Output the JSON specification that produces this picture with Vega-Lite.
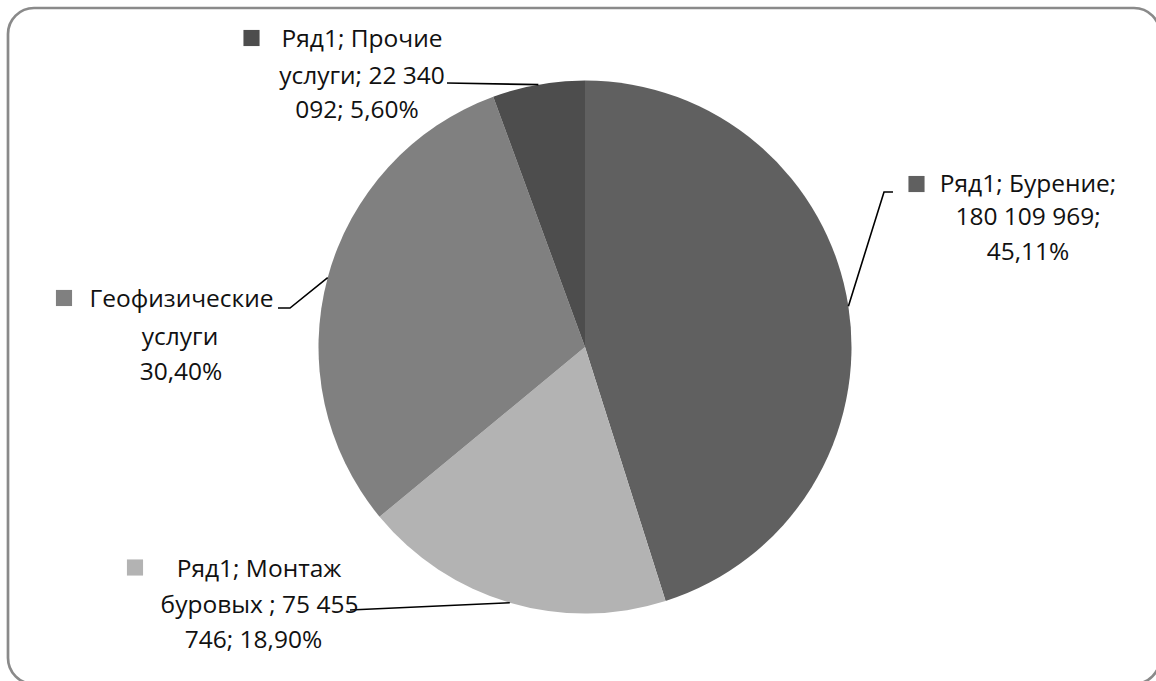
{
  "$schema": "https://vega.github.io/schema/vega-lite/v6.json",
  "width": 1142,
  "height": 668,
  "autosize": "none",
  "padding": {"left": 14, "top": 13, "right": 0, "bottom": 0},
  "background": "white",
  "config": {"view": {"stroke": null}},
  "datasets": {
    "pie": [
      {"cat": "Бурение", "value": 180109969, "ord": 1},
      {"cat": "Монтаж буровых", "value": 75455746, "ord": 2},
      {"cat": "Геофизические услуги", "value": 121362000, "ord": 3},
      {"cat": "Прочие услуги", "value": 22340092, "ord": 4}
    ],
    "leaders": [
      {"cat": "Прочие услуги", "i": 1, "x": -0.5178, "y": 0.9906},
      {"cat": "Прочие услуги", "i": 2, "x": -0.1749, "y": 0.9846},
      {"cat": "Бурение", "i": 1, "x": 0.9884, "y": 0.1531},
      {"cat": "Бурение", "i": 2, "x": 1.122, "y": 0.5816},
      {"cat": "Бурение", "i": 3, "x": 1.1557, "y": 0.5816},
      {"cat": "Геофизические услуги", "i": 1, "x": -0.9655, "y": 0.2604},
      {"cat": "Геофизические услуги", "i": 2, "x": -1.1069, "y": 0.1463},
      {"cat": "Геофизические услуги", "i": 3, "x": -1.152, "y": 0.1463},
      {"cat": "Монтаж буровых", "i": 1, "x": -0.2822, "y": -0.9595},
      {"cat": "Монтаж буровых", "i": 2, "x": -0.8818, "y": -0.9869}
    ],
    "keys": [
      {"cat": "Прочие услуги", "x": -1.2514, "y": 1.1595},
      {"cat": "Бурение", "x": 1.2439, "y": 0.6116},
      {"cat": "Геофизические услуги", "x": -1.955, "y": 0.1839},
      {"cat": "Монтаж буровых", "x": -1.6886, "y": -0.8274}
    ],
    "labels": [
      {"text": "Ряд1; Прочие", "x": -0.8368, "y": 1.1257},
      {"text": "услуги; 22 340", "x": -0.8368, "y": 0.9869},
      {"text": "092; 5,60%", "x": -0.8555, "y": 0.8593},
      {"text": "Ряд1; Бурение;", "x": 1.6623, "y": 0.5816},
      {"text": "180 109 969;", "x": 1.6623, "y": 0.4578},
      {"text": "45,11%", "x": 1.6623, "y": 0.3265},
      {"text": "Геофизические", "x": -1.5141, "y": 0.1501},
      {"text": "услуги", "x": -1.5197, "y": 0.0075},
      {"text": "30,40%", "x": -1.5159, "y": -0.1238},
      {"text": "Ряд1; Монтаж", "x": -1.2233, "y": -0.863},
      {"text": "буровых ; 75 455", "x": -1.2214, "y": -0.9981},
      {"text": "746; 18,90%", "x": -1.2439, "y": -1.1295}
    ]
  },
  "layer": [
    {
      "data": {"values": [{}]},
      "mark": {"type": "rect", "filled": false, "stroke": "#8a8a8a", "strokeWidth": 2.7, "cornerRadius": 26, "clip": false},
      "encoding": {
        "x": {"datum": -2.1651, "type": "quantitative", "scale": {"domain": [-2.1426, 2.1426], "nice": false, "zero": false}, "axis": null},
        "x2": {"datum": 2.1576},
        "y": {"datum": 1.272, "type": "quantitative", "scale": {"domain": [-1.2533, 1.2533], "nice": false, "zero": false}, "axis": null},
        "y2": {"datum": -1.2645}
      }
    },
    {
      "data": {"name": "pie"},
      "mark": {"type": "arc", "outerRadius": 266.5},
      "encoding": {
        "theta": {"field": "value", "type": "quantitative", "stack": true},
        "order": {"field": "ord", "type": "quantitative"},
        "color": {
          "field": "cat", "type": "nominal",
          "scale": {"domain": ["Бурение", "Монтаж буровых", "Геофизические услуги", "Прочие услуги"], "range": ["#606060", "#b3b3b3", "#808080", "#4d4d4d"]},
          "legend": null
        }
      }
    },
    {
      "data": {"name": "leaders"},
      "mark": {"type": "line", "color": "#000000", "strokeWidth": 1.6, "clip": false},
      "encoding": {
        "x": {"field": "x", "type": "quantitative", "scale": {"domain": [-2.1426, 2.1426], "nice": false, "zero": false}, "axis": null},
        "y": {"field": "y", "type": "quantitative", "scale": {"domain": [-1.2533, 1.2533], "nice": false, "zero": false}, "axis": null},
        "detail": {"field": "cat", "type": "nominal"},
        "order": {"field": "i", "type": "quantitative"}
      }
    },
    {
      "data": {"name": "keys"},
      "mark": {"type": "point", "shape": "square", "filled": true, "opacity": 1, "size": 260, "clip": false},
      "encoding": {
        "x": {"field": "x", "type": "quantitative", "scale": {"domain": [-2.1426, 2.1426], "nice": false, "zero": false}, "axis": null},
        "y": {"field": "y", "type": "quantitative", "scale": {"domain": [-1.2533, 1.2533], "nice": false, "zero": false}, "axis": null},
        "color": {"field": "cat", "type": "nominal", "legend": null}
      }
    },
    {
      "data": {"name": "labels"},
      "mark": {"type": "text", "font": "Open Sans", "fontSize": 24.5, "color": "#111111", "align": "center", "baseline": "alphabetic", "clip": false},
      "encoding": {
        "x": {"field": "x", "type": "quantitative", "scale": {"domain": [-2.1426, 2.1426], "nice": false, "zero": false}, "axis": null},
        "y": {"field": "y", "type": "quantitative", "scale": {"domain": [-1.2533, 1.2533], "nice": false, "zero": false}, "axis": null},
        "text": {"field": "text", "type": "nominal"}
      }
    }
  ]
}
